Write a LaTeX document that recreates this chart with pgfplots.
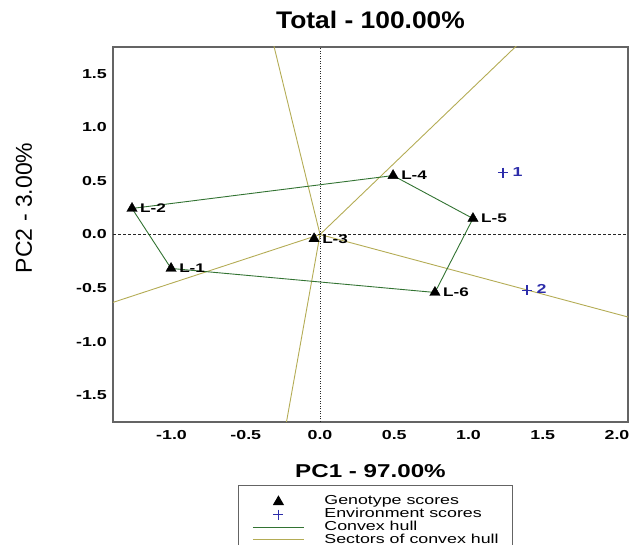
\documentclass[border=0pt]{standalone}
\usepackage{fontspec}
\setmainfont{Liberation Sans}
\newfontfamily\wfont{Liberation Sans}[FakeStretch=1.37]
\newfontfamily\tfont{Liberation Sans}[FakeStretch=1.1]
\newfontfamily\xfont{Liberation Sans}[FakeStretch=1.3]
\usepackage{pgfplots}
\pgfplotsset{compat=1.18}
\definecolor{hull}{RGB}{50,115,50}
\definecolor{sector}{RGB}{180,172,85}
\definecolor{envblue}{RGB}{45,45,170}
\definecolor{frame}{RGB}{100,100,100}
\begin{document}
\begin{tikzpicture}
\begin{axis}[
  at={(113pt,123pt)}, anchor=south west,
  scale only axis, width=515pt, height=375pt,
  xmin=-1.394, xmax=2.074, ymin=-1.75, ymax=1.75,
  axis line style={draw=frame, line width=1.2pt},
  major tick length=0pt,
  xtick={-1,-0.5,0,0.5,1,1.5,2},
  xticklabels={-1.0,-0.5,0.0,0.5,1.0,1.5,2.0},
  ytick={-1.5,-1,-0.5,0,0.5,1,1.5},
  yticklabels={-1.5,-1.0,-0.5,0.0,0.5,1.0,1.5},
  tick label style={font=\wfont\bfseries\fontsize{13}{13}\selectfont, inner sep=0pt},
  xticklabel style={anchor=base, yshift=-18pt},
  yticklabel style={anchor=east, xshift=-6pt},
  title={Total - 100.00\%},
  title style={font=\tfont\bfseries\fontsize{24}{24}\selectfont, at={(axis description cs:0.5,1.033)}, anchor=base, inner sep=0pt},
  xlabel={PC1 - 97.00\%},
  xlabel style={font=\xfont\bfseries\fontsize{18.6}{18.6}\selectfont, at={(axis description cs:0.5,-0.147)}, anchor=base, inner sep=0pt},
  ylabel={PC2 - 3.00\%},
  ylabel style={font=\fontsize{23}{23}\selectfont, at={(axis description cs:-0.1728,0.571)}, anchor=center, inner sep=0pt},
  legend image code/.code={\draw[mark repeat=2, mark phase=2, #1] plot coordinates {(0pt,0pt) (25.5pt,0pt) (51pt,0pt)};},
  legend style={at={(axis description cs:0.2427,-0.168)}, anchor=north west, draw=frame, line width=1pt, fill=white,
    inner xsep=14pt, inner ysep=10pt, font=\wfont\fontsize{13}{13}\selectfont, row sep=0pt, column sep=20pt,
    nodes={inner sep=0pt, text height=9.5pt, text depth=3.2pt}},
  legend cell align=left,
]
% sectors of convex hull
\addplot[sector, line width=0.9pt, forget plot] coordinates {(0,0) (-0.626,3.548)};
\addplot[sector, line width=0.9pt, forget plot] coordinates {(0,0) (2.666,3.548)};
\addplot[sector, line width=0.9pt, forget plot] coordinates {(0,0) (3.164,-1.175)};
\addplot[sector, line width=0.9pt, forget plot] coordinates {(0,0) (-0.448,-3.472)};
\addplot[sector, line width=0.9pt, forget plot] coordinates {(0,0) (-2.816,-1.28)};
% reference lines
\addplot[black!85, line width=0.9pt, dash pattern=on 1pt off 1.5pt, forget plot] coordinates {(0,-1.75) (0,1.75)};
\addplot[black!85, line width=0.8pt, dash pattern=on 3pt off 2pt, forget plot] coordinates {(-1.394,0) (2.074,0)};
% convex hull
\addplot[hull, line width=0.9pt, forget plot] coordinates {(-1.266,0.243) (0.492,0.55) (1.03,0.149) (0.774,-0.541) (-1.003,-0.317) (-1.266,0.243)};
% genotypes
\addplot[only marks, mark=triangle*, mark size=6pt, black, forget plot,
  nodes near coords, point meta=explicit symbolic,
  every node near coord/.append style={anchor=west, xshift=8pt, yshift=0pt, inner sep=0pt, font=\wfont\bfseries\fontsize{12.5}{12.5}\selectfont, text=black}]
  table[meta=label] {
x y label
-1.003 -0.317 L-1
-1.266 0.243 L-2
-0.040 -0.040 L-3
0.492 0.550 L-4
1.030 0.149 L-5
0.774 -0.541 L-6
};
% environments
\addplot[only marks, mark=+, mark size=5pt, envblue, mark options={line width=1.3pt}, forget plot,
  nodes near coords, point meta=explicit symbolic,
  every node near coord/.append style={anchor=west, xshift=9pt, yshift=1pt, inner sep=0pt, font=\wfont\bfseries\fontsize{13}{13}\selectfont, text=envblue}]
  table[meta=label] {
x y label
1.232 0.578 1
1.394 -0.522 2
};
\addlegendimage{only marks, mark=triangle*, mark size=5.5pt, black}
\addlegendentry{Genotype scores}
\addlegendimage{only marks, mark=+, mark size=5pt, envblue, mark options={line width=1pt}}
\addlegendentry{Environment scores}
\addlegendimage{hull, line width=0.9pt}
\addlegendentry{Convex hull}
\addlegendimage{sector, line width=0.9pt}
\addlegendentry{Sectors of convex hull}
\end{axis}
\pgfresetboundingbox
\path[use as bounding box] (0,0) rectangle (630pt,545pt);
\end{tikzpicture}
\end{document}
